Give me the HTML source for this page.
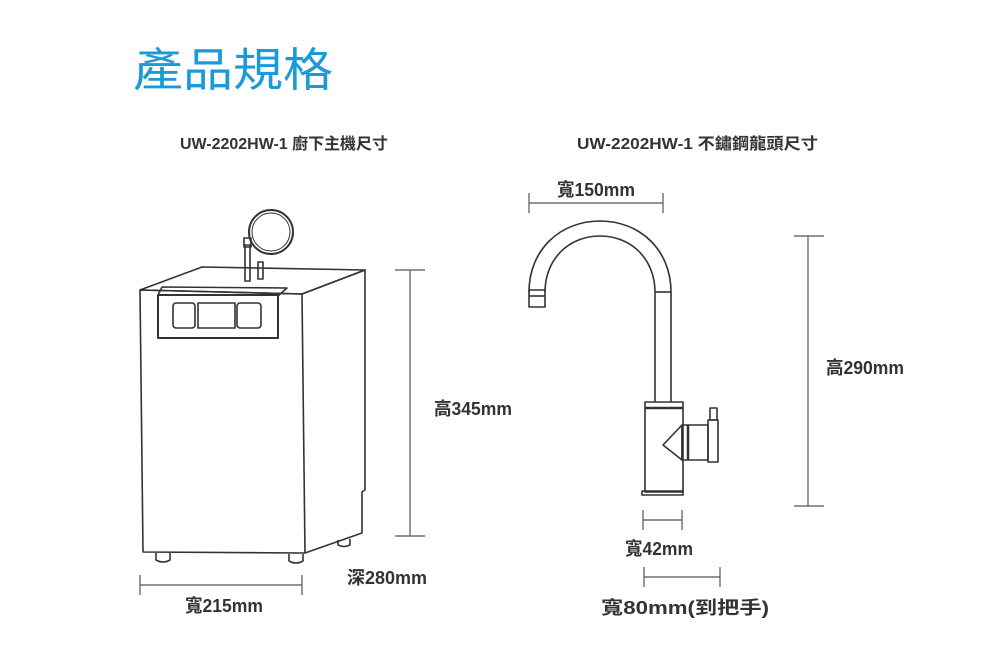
<!DOCTYPE html>
<html><head><meta charset="utf-8"><style>
html,body{margin:0;padding:0;background:#fff;}
svg{display:block;}
text{font-family:"Liberation Sans","Noto Sans CJK TC",sans-serif;}
</style></head><body>
<svg width="1000" height="661" viewBox="0 0 1000 661" xmlns="http://www.w3.org/2000/svg">
<text x="133" y="86" font-size="46" fill="#1b9ad8" textLength="200" lengthAdjust="spacingAndGlyphs">產品規格</text>
<text x="180" y="149" font-size="16" fill="#333" font-weight="bold" textLength="208" lengthAdjust="spacingAndGlyphs">UW-2202HW-1 廚下主機尺寸</text>
<text x="577" y="149" font-size="16" fill="#333" font-weight="bold" textLength="241" lengthAdjust="spacingAndGlyphs">UW-2202HW-1 不鏽鋼龍頭尺寸</text>

<g fill="none" stroke="#333" stroke-width="1.6" stroke-linejoin="round">
<polygon points="140,290 202,267 365,270 302,294"/>
<polygon points="140,290 302,294 305,553 143,552"/>
<polyline points="302,294 365,270 365,490 362,492 362,533 305,553"/>
<polyline points="158,295 162,287 287,288 278,296"/>
<rect x="158" y="295" width="120" height="43" stroke-width="2"/>
<rect x="173" y="303" width="22" height="25" rx="3"/>
<rect x="198" y="303" width="37" height="25"/>
<rect x="237" y="303" width="24" height="25" rx="3"/>
<path d="M156,553 v7 q7,4 14,0 v-7"/>
<path d="M289,554 v7 q7,4 14,0 v-7"/>
<path d="M338,540 v5 q6,3 12,0 v-6"/>
<rect x="245" y="245" width="5" height="36"/>
<rect x="244" y="238" width="7" height="9"/>
<rect x="258" y="262" width="5" height="17"/>
<circle cx="271" cy="232" r="22" stroke-width="2"/>
<circle cx="271" cy="232" r="19" stroke-width="1"/>
<path d="M529,292 C529,250 560,221 600,221 C640,221 671,250 671,292 V402"/>
<path d="M545,292 C545,260 568,236 600,236 C632,236 655,260 655,292 V402"/>
<line x1="655" y1="292" x2="671" y2="292"/>
<rect x="529" y="290" width="16" height="17"/>
<line x1="529" y1="296" x2="545" y2="296"/>
<rect x="645" y="402" width="38" height="90"/>
<line x1="645" y1="408" x2="683" y2="408" stroke-width="2.5"/>
<rect x="642" y="491" width="41" height="4"/>
<polygon points="682,425 663,445 682,460"/>
<rect x="682" y="425" width="26" height="35"/>
<line x1="688" y1="425" x2="688" y2="460" stroke-width="2.5"/>
<rect x="708" y="420" width="10" height="42"/>
<rect x="710" y="408" width="7" height="12"/>
</g>

<g stroke="#555" stroke-width="1.2" fill="none">
<line x1="410" y1="270" x2="410" y2="536"/><line x1="395" y1="270" x2="425" y2="270"/><line x1="395" y1="536" x2="425" y2="536"/>
<line x1="140" y1="585" x2="302" y2="585"/><line x1="140" y1="575" x2="140" y2="595"/><line x1="302" y1="575" x2="302" y2="595"/>
<line x1="529" y1="203" x2="663" y2="203"/><line x1="529" y1="193" x2="529" y2="213"/><line x1="663" y1="193" x2="663" y2="213"/>
<line x1="808" y1="236" x2="808" y2="506"/><line x1="794" y1="236" x2="824" y2="236"/><line x1="794" y1="506" x2="824" y2="506"/>
<line x1="643" y1="520" x2="682" y2="520"/><line x1="643" y1="510" x2="643" y2="530"/><line x1="682" y1="510" x2="682" y2="530"/>
<line x1="644" y1="577" x2="720" y2="577"/><line x1="644" y1="567" x2="644" y2="587"/><line x1="720" y1="567" x2="720" y2="587"/>
</g>
<g font-size="18" fill="#333" font-weight="bold">
<text x="434" y="415" textLength="78" lengthAdjust="spacingAndGlyphs">高345mm</text>
<text x="185" y="612" textLength="78" lengthAdjust="spacingAndGlyphs">寬215mm</text>
<text x="347" y="584" textLength="80" lengthAdjust="spacingAndGlyphs">深280mm</text>
<text x="557" y="196" textLength="78" lengthAdjust="spacingAndGlyphs">寬150mm</text>
<text x="826" y="374" textLength="78" lengthAdjust="spacingAndGlyphs">高290mm</text>
<text x="625" y="555" textLength="68" lengthAdjust="spacingAndGlyphs">寬42mm</text>
<text x="601" y="614" textLength="168" lengthAdjust="spacingAndGlyphs">寬80mm(到把手)</text>
</g>
</svg>
</body></html>
